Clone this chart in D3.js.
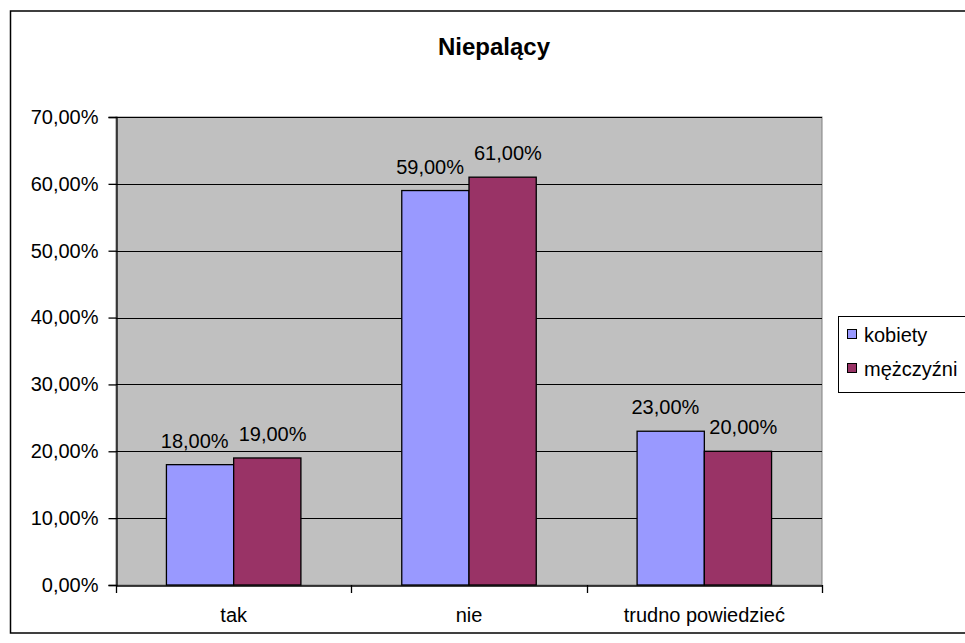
<!DOCTYPE html>
<html>
<head>
<meta charset="utf-8">
<script src="https://cdn.jsdelivr.net/npm/d3@7"></script>
<style>
  html, body { margin: 0; padding: 0; background: #ffffff; }
  svg { display: block; font-family: "Liberation Sans", Arial, sans-serif; }
</style>
</head>
<body>
<svg id="chart" width="965" height="643"></svg>
<script>
const title = "Niepalący";
const categories = ["tak", "nie", "trudno powiedzieć"];
const seriesNames = ["kobiety", "mężczyźni"];
const kobiety = [0.18, 0.59, 0.23];
const mezczyzni = [0.19, 0.61, 0.20];
const yTicks = [0, 0.1, 0.2, 0.3, 0.4, 0.5, 0.6, 0.7];
const colors = ["#9999FF", "#993366"];

const series = [kobiety, mezczyzni];
const svg = d3.select("#chart");

// outer chart border
svg.append("rect").attr("x", 10.5).attr("y", 11).attr("width", 980).attr("height", 622)
  .attr("fill", "#ffffff").attr("stroke", "#000").attr("stroke-width", 1.5);

const plot = { left: 116, top: 117, right: 822, bottom: 585 };

const y = d3.scaleLinear().domain([0, 0.7]).range([plot.bottom, plot.top]);
const x = d3.scaleBand().domain(categories).range([plot.left, plot.right]).padding(0);
const barW = x.bandwidth() / 3.5;
const xs = d3.scaleBand().domain(seriesNames).range([0, 2 * barW]).padding(0);
const groupOffset = (x.bandwidth() - 2 * barW) / 2;

const fmt = v => (v * 100).toFixed(2).replace(".", ",") + "%";

// plot background
svg.append("rect").attr("x", plot.left).attr("y", plot.top)
  .attr("width", plot.right - plot.left).attr("height", plot.bottom - plot.top)
  .attr("fill", "#C0C0C0").attr("stroke", "#808080").attr("stroke-width", 1);

// gridlines
svg.append("g").selectAll("line").data(yTicks.filter(t => t > 0)).join("line")
  .attr("x1", plot.left).attr("x2", plot.right)
  .attr("y1", d => Math.round(y(d)) + 0.5).attr("y2", d => Math.round(y(d)) + 0.5)
  .attr("stroke", "#000").attr("stroke-width", 1);

// title
svg.append("text").attr("x", 494).attr("y", 55).attr("text-anchor", "middle")
  .attr("font-size", 24).attr("font-weight", "bold").attr("fill", "#000").text(title);

// bars
series.forEach((vals, si) => {
  svg.append("g").selectAll("rect").data(vals).join("rect")
    .attr("x", (d, i) => x(categories[i]) + groupOffset + xs(seriesNames[si]))
    .attr("y", d => y(d))
    .attr("width", barW)
    .attr("height", d => y(0) - y(d))
    .attr("fill", colors[si]).attr("stroke", "#000").attr("stroke-width", 1.3);
});

// value labels
const labelNodes = series.map((vals, si) =>
  svg.append("g").selectAll("text").data(vals).join("text")
    .attr("x", (d, i) => x(categories[i]) + groupOffset + xs(seriesNames[si]) + barW / 2)
    .attr("y", d => y(d) - 17)
    .attr("text-anchor", "middle").attr("font-size", 20).attr("fill", "#000")
    .text(d => fmt(d)).nodes()
);
// push apart overlapping labels within a category
categories.forEach((c, i) => {
  const a = labelNodes[0][i], b = labelNodes[1][i];
  const ca = +a.getAttribute("x"), cb = +b.getAttribute("x");
  const wa = a.getComputedTextLength(), wb = b.getComputedTextLength();
  const overlap = (ca + wa / 2 + 10) - (cb - wb / 2);
  if (overlap > 0) {
    a.setAttribute("x", ca - overlap / 2);
    b.setAttribute("x", cb + overlap / 2);
  }
});

// y axis
const yAxis = d3.axisLeft(y).tickValues(yTicks).tickFormat(fmt).tickSize(8).tickPadding(10);
const gy = svg.append("g").attr("transform", `translate(${plot.left + 0.5},0)`).call(yAxis);
gy.select(".domain").attr("stroke", "#000").attr("stroke-width", 1.3);
gy.selectAll(".tick line").attr("stroke", "#000").attr("stroke-width", 1.3);
gy.selectAll(".tick text").attr("font-size", 20).attr("fill", "#000")
  .attr("font-family", "Liberation Sans, Arial, sans-serif");

// x axis
const xAxis = d3.axisBottom(x).tickSize(0).tickPadding(22);
const gx = svg.append("g").attr("transform", `translate(0,${plot.bottom + 0.5})`).call(xAxis);
gx.select(".domain").attr("stroke", "#000").attr("stroke-width", 1.3);
gx.selectAll(".tick text").attr("font-size", 20).attr("fill", "#000")
  .attr("font-family", "Liberation Sans, Arial, sans-serif");
// category boundary tick marks
const bounds = categories.map(c => x(c)).concat([x(categories[categories.length - 1]) + x.bandwidth()]);
svg.append("g").selectAll("line").data(bounds).join("line")
  .attr("x1", d => Math.round(d) + 0.5).attr("x2", d => Math.round(d) + 0.5)
  .attr("y1", plot.bottom).attr("y2", plot.bottom + 8)
  .attr("stroke", "#000").attr("stroke-width", 1.3);

// legend
const lg = svg.append("g");
lg.append("rect").attr("x", 838.5).attr("y", 316.5).attr("width", 140).attr("height", 76)
  .attr("fill", "#fff").attr("stroke", "#000").attr("stroke-width", 1);
seriesNames.forEach((n, i) => {
  lg.append("rect").attr("x", 847.5).attr("y", 329.5 + i * 34).attr("width", 9).attr("height", 9)
    .attr("fill", colors[i]).attr("stroke", "#000").attr("stroke-width", 1);
  lg.append("text").attr("x", 864).attr("y", 342 + i * 34).attr("font-size", 20)
    .attr("fill", "#000").text(n);
});
</script>
</body>
</html>
